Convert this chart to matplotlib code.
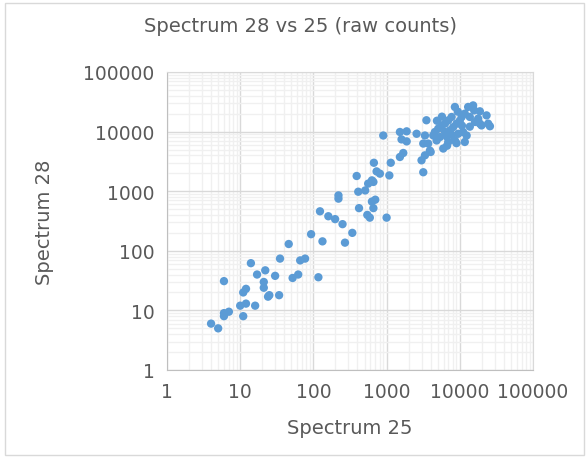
import numpy as np
import matplotlib.pyplot as plt
from matplotlib.ticker import FixedLocator, FuncFormatter, LogLocator, NullFormatter
from matplotlib.patches import Rectangle

# raw counts (spectrum 25 on x, spectrum 28 on y)
spec25 = [4, 5, 6, 6, 7, 6, 11, 10, 12, 16, 11, 12, 14, 17, 22, 21, 21, 30, 24, 25,
          34, 35, 52, 62, 66, 77, 117, 46, 93, 133, 123, 160, 198, 250, 340, 270,
          220, 220, 390, 410, 510, 560, 630, 660, 730, 810, 670, 1090, 1140, 420,
          630, 700, 660, 545, 590, 1000, 900, 1520, 1690, 1520, 1880, 1600, 1880,
          2570, 3000, 3340, 4000, 3170, 3170, 3340, 3500, 8570, 13000, 15200, 15700,
          11700, 10600, 17800, 23200, 24400, 19800, 16100, 7730, 6950, 6270, 5650,
          5070, 4570, 4340, 9040, 8130, 7330, 6270, 5350, 4820, 9510, 11100, 12400,
          11700, 8570, 6950, 5940, 3700, 3900, 25800, 9000, 10000, 13700, 5700,
          9400, 6670, 10700, 7800, 13700, 4870, 18800, 18800, 6700]
spec28 = [6, 5, 31, 9, 9.5, 8, 8, 12, 13, 12, 20, 23, 62, 40, 47, 30, 24, 38, 17, 18,
          18, 74, 35, 40, 69, 74, 36, 130, 190, 144, 460, 380, 340, 280, 200, 137,
          850, 750, 1800, 980, 1030, 1340, 1520, 1430, 2150, 1970, 3000, 1840, 3000,
          520, 670, 720, 520, 400, 360, 360, 8600, 3750, 4380, 9850, 10100, 7400,
          6850, 9200, 3300, 4000, 4550, 2080, 6300, 8600, 15500, 25900, 25900, 27500,
          22700, 20000, 17600, 16500, 18700, 13600, 12700, 14500, 17600, 15400,
          13600, 12700, 11200, 9850, 8630, 13600, 11900, 10500, 9850, 8100, 7100,
          9200, 9850, 8600, 6700, 7100, 6700, 5200, 6300, 4800, 12300, 6400, 15200,
          12100, 17800, 21600, 8200, 12600, 8800, 17600, 15200, 21900, 13600, 5800]

ticks = [1, 10, 100, 1000, 10000, 100000]
text_col = '#595959'

fig = plt.figure(figsize=(5.87, 4.60), dpi=100)
fig.patches.append(Rectangle((5/587, 4/460), 579/587, 452/460, transform=fig.transFigure,
                             fill=False, edgecolor='#d9d9d9', linewidth=1))

ax = fig.add_axes([167/587, 89/460, 366/587, 298/460])
ax.scatter(spec25, spec28, s=36, color='#5b9bd5', edgecolors='none', zorder=3)

ax.set_xscale('log')
ax.set_yscale('log')
ax.set_xlim(1, 100000)
ax.set_ylim(1, 100000)

fmt = FuncFormatter(lambda v, p: '%d' % round(v))
for axis in (ax.xaxis, ax.yaxis):
    axis.set_major_locator(FixedLocator(ticks))
    axis.set_major_formatter(fmt)
    axis.set_minor_locator(LogLocator(base=10, subs=np.arange(2, 10)))
    axis.set_minor_formatter(NullFormatter())

ax.grid(True, which='major', color='#d9d9d9', linewidth=1)
ax.grid(True, which='minor', color='#f0f0f0', linewidth=1)
ax.set_axisbelow(True)
for s in ax.spines.values():
    s.set_color('#d9d9d9')
ax.spines['left'].set_color('#bfbfbf')
ax.spines['bottom'].set_color('#bfbfbf')
ax.tick_params(which='both', length=0, labelsize=13.5, labelcolor=text_col, pad=9)

ax.set_xlabel('Spectrum 25', fontsize=14, color=text_col, labelpad=12)
ax.set_ylabel('Spectrum 28', fontsize=14, color=text_col, labelpad=21)
fig.text(301/587, 1 - 27/460, 'Spectrum 28 vs 25 (raw counts)', fontsize=14,
         color=text_col, ha='center', va='center')

fig.savefig('out.png', dpi=100)
